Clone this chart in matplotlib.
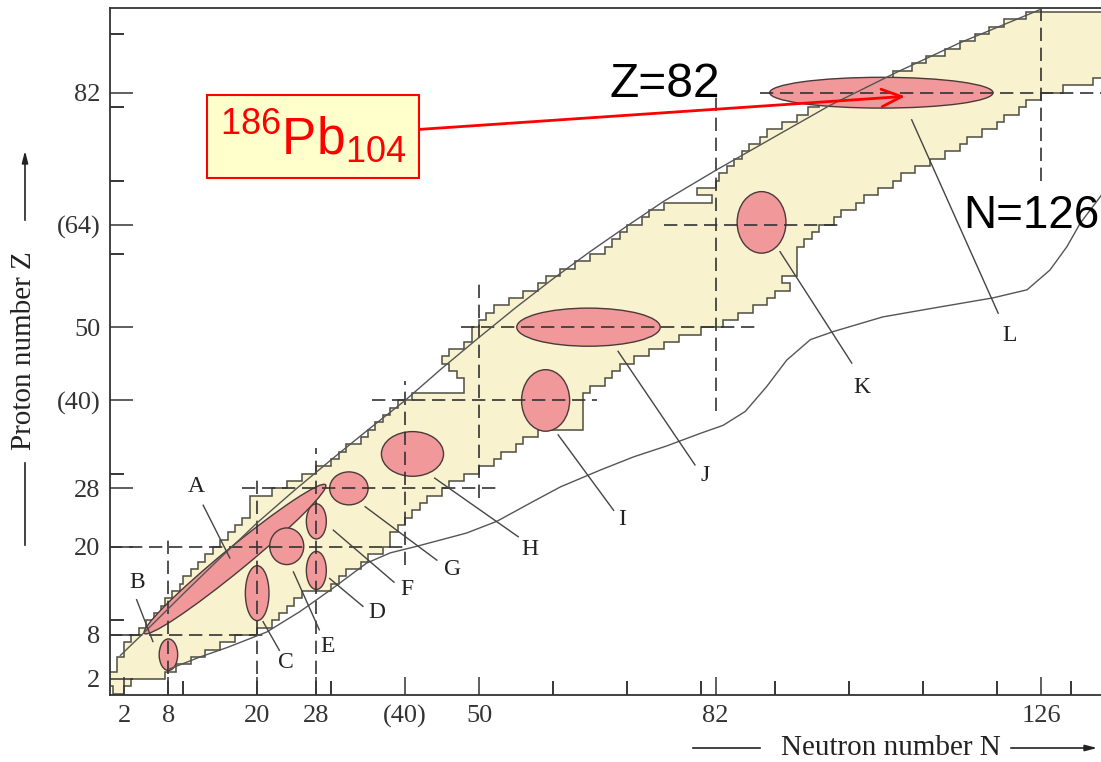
import matplotlib
matplotlib.use('Agg')
import matplotlib.pyplot as plt
from matplotlib.patches import Ellipse
from matplotlib.lines import Line2D

plt.rcParams['font.family'] = 'Liberation Serif'
plt.rcParams['mathtext.fontset'] = 'custom'
plt.rcParams['mathtext.rm'] = 'Liberation Sans'

# known nuclei: one row per proton number Z (Z..Z+1), lowest and highest N
z_rows = list(range(0, 93))
n_min = [0.5, 0, 0, 1, 1, 2, 2, 3, 4, 5,
         6, 7, 7.5, 8.5, 9.5, 10, 11, 12, 13, 14,
         15, 16, 17, 18, 19, 19, 19, 22, 24, 26,
         28, 30, 31, 32, 34, 35, 36, 37, 38, 39,
         41, 48, 48, 47, 46, 45, 46, 48, 49, 49,
         50, 51, 52, 54, 56, 58, 59, 61, 63, 65,
         67, 68, 69, 70, 72, 73, 75, 81.5, 79.5, 82,
         82.5, 83.5, 84.5, 85.5, 86.5, 88, 89, 91, 93, 94.5,
         96, 98, 101, 104, 106, 108.5, 110.5, 113, 115, 117,
         119, 121, 124]
n_max = [2, 3, 7.5, 9, 11, 13, 15, 17, 20, 22,
         23, 24, 25, 26, 30, 31, 32, 34, 35, 37,
         38, 38, 39, 40, 41, 42, 43, 45, 46, 48,
         50, 52, 53, 55, 56, 58, 64, 64, 64, 64,
         64, 65, 67, 68, 69, 71, 73, 75, 77, 80,
         83, 85, 87, 89, 90, 92, 91, 93, 93, 93,
         93, 94, 95, 96, 98, 99, 101, 102, 104, 106,
         107, 109, 111, 113, 115, 116, 118, 120, 121, 123,
         124, 126, 129, 133, 140, 140, 140, 140, 140, 140,
         140, 140, 140]

# drip lines
upper_n = [1.5, 5, 10, 15, 20, 25, 30, 35, 40, 45, 50, 55, 60, 65, 70, 75,
           82, 90, 97.5, 106.5, 115, 126]
upper_z = [5.2, 8.6, 13.6, 18.5, 23.3, 27.7, 31.9, 36.0, 40.0, 44.4, 48.6,
           52.7, 56.6, 60.3, 63.8, 67.2, 71.4, 76.0, 80.3, 84.8, 88.8, 93.4]
lower_n = [8, 12.3, 16, 21.3, 25.8, 30, 34.8, 38, 41.6, 48.3, 52.4, 57.3, 61,
           66.4, 70.9, 75.4, 79.9, 83, 86, 88.9, 91.6, 94.8, 97.9, 104.6,
           111.4, 119.5, 124.1, 127.2, 129.5, 131.3, 134, 136]
lower_z = [3.3, 5.0, 6.3, 8.4, 11.2, 14.2, 17.8, 19.2, 20.1, 21.9, 23.5, 26.2,
           28.2, 30.5, 32.3, 33.8, 35.5, 36.6, 38.5, 41.9, 45.5, 48.3, 49.4,
           51.4, 52.6, 54.0, 55.1, 57.8, 61.0, 64.2, 67.8, 71]

# magic number lines: value, start, end
h_magic = [(8, 0, 21), (20, 0, 40), (28, 18, 53), (40, 35.5, 66),
           (50, 47.5, 88), (64, 75, 98.5), (82, 88, 140)]
v_magic = [(8, 0, 21.4), (20, 0, 29.6), (28, 0, 33.5), (40, 17.5, 42.6),
           (50, 26.7, 56.5), (82, 38.5, 82), (126, 70, 94)]

# deformed regions
ell_names = ['A', 'B', 'C', 'D', 'E', 'F', 'G', 'H', 'I', 'J', 'K', 'L']
ell_n = [17.0, 8, 20, 28, 24, 28, 32.4, 41, 59, 64.8, 88.2, 104.4]
ell_z = [18.35, 5.3, 13.7, 16.8, 20.1, 23.5, 28, 32.7, 40, 50, 64.3, 82]
ell_w = [31.8, 2.5, 3.2, 2.7, 4.6, 2.7, 5.2, 8.4, 6.5, 19.4, 6.6, 30.2]
ell_h = [3.2, 4.3, 7.5, 5.2, 5.0, 4.8, 4.5, 6.1, 8.4, 5.2, 8.4, 4.2]
ell_ang = [39.6, 0, 0, 0, 0, 0, 0, 0, 0, 0, 0, 0]

lab_n = [11.7, 3.8, 23.9, 36.2, 29.5, 40.3, 46.4, 56.9, 69.3, 80.6, 101.8, 121.8]
lab_z = [28.2, 15.2, 4.3, 11.1, 6.4, 14.2, 16.9, 19.6, 23.7, 29.8, 41.7, 48.9]
lead_n0 = [16.3, 5.9, 20.8, 29.8, 24.9, 30.3, 34.6, 44.0, 60.7, 68.8, 90.7, 108.5]
lead_z0 = [18.5, 7.1, 9.8, 15.7, 16.6, 22.3, 25.5, 29.4, 35.3, 46.7, 60.3, 78.3]
lead_n1 = [12.7, 3.7, 23.0, 34.3, 28.4, 38.5, 44.3, 55.3, 68.2, 79.2, 100.4, 120.2]
lead_z1 = [25.7, 12.8, 5.9, 11.9, 8.7, 15.2, 18.2, 21.4, 25.0, 31.2, 45.1, 51.9]

x_major = [2, 8, 20, 28, 40, 50, 82, 126]
x_labels = ['2', '8', '20', '28', '(40)', '50', '82', '126']
x_minor = [10, 30, 60, 70, 80, 90, 100, 110, 120, 130]
y_major = [2, 8, 20, 28, 40, 50, 64, 82]
y_labels = ['2', '8', '20', '28', '(40)', '50', '(64)', '82']
y_minor = [10, 30, 60, 70, 80, 90]

W, H = 1101, 762
fig = plt.figure(figsize=(W / 100, H / 100), dpi=100)
ax = fig.add_axes([110 / W, 1 - 695 / H, 1 - 110 / W, (695 - 8) / H])
ax.set_xlim(0.1, 134.1)
ax.set_ylim(-0.2, 93.56)

# staircase outline of the region
xs, ys = [], []
for z, a in zip(z_rows, n_min):
    xs += [a, a]
    ys += [z, z + 1]
for z, b in zip(reversed(z_rows), reversed(n_max)):
    xs += [b, b]
    ys += [z + 1, z]
ax.fill(xs, ys, fc='#F9F2CF', ec='#4d4d40', lw=1.1, zorder=1)

for name, cn, cz, w, h, a in zip(ell_names, ell_n, ell_z, ell_w, ell_h, ell_ang):
    ax.add_patch(Ellipse((cn, cz), w, h, angle=a, fc='#F1989A',
                         ec='#4a3a3a', lw=1, zorder=2))

for v, a, b in h_magic:
    ax.plot([a, b], [v, v], color='#333333', lw=1.2, dashes=(8, 4), zorder=3)
for v, a, b in v_magic:
    ax.plot([v, v], [a, b], color='#333333', lw=1.2, dashes=(8, 4), zorder=3)

ax.plot(upper_n, upper_z, color='#555555', lw=1, zorder=3)
ax.plot(lower_n, lower_z, color='#555555', lw=1, zorder=3)

for i in range(len(ell_names)):
    ax.plot([lead_n0[i], lead_n1[i]], [lead_z0[i], lead_z1[i]],
            color='#444444', lw=1, zorder=4)
    ax.text(lab_n[i], lab_z[i], ell_names[i], fontsize=17, ha='center',
            va='center', color='#222222', zorder=4)

ax.set_xticks(x_major)
ax.set_xticklabels(x_labels)
ax.set_xticks(x_minor, minor=True)
ax.set_yticks(y_major)
ax.set_yticklabels(y_labels)
ax.set_yticks(y_minor, minor=True)
ax.tick_params(axis='x', which='major', direction='in', length=13, width=1.1, pad=7, labelsize=19)
ax.tick_params(axis='x', which='minor', direction='in', length=10, width=1.1)
ax.tick_params(axis='y', which='major', direction='in', length=16.5, width=1.1, pad=7, labelsize=19)
ax.tick_params(axis='y', which='minor', direction='in', length=10, width=1.1)
ax.tick_params(colors='#333333')
ax.spines['right'].set_visible(False)
for s in ['left', 'top', 'bottom']:
    ax.spines[s].set_color('#333333')
    ax.spines[s].set_linewidth(1.3)

# shell closures and the 186Pb example
ax.text(67.7, 81.4, 'Z=82', fontsize=34.5, family='Liberation Sans', zorder=5)
ax.text(115.5, 63.5, 'N=126', fontsize=33, family='Liberation Sans', zorder=5)
ax.annotate(r'$\mathrm{^{186}Pb_{104}}$', xy=(107.6, 81.5), xytext=(27.5, 76),
            color='red', fontsize=37, ha='center', va='center', zorder=6,
            bbox=dict(boxstyle='square,pad=0.25', fc='#FFFFCC', ec='red', lw=1.5),
            arrowprops=dict(arrowstyle='->,head_length=0.8,head_width=0.35',
                            mutation_scale=18, color='red', lw=2,
                            shrinkA=0, shrinkB=0))

# axis titles with arrows
fig.text(24 / W, 1 - 351 / H, 'Proton number Z', rotation=90, fontsize=21,
         ha='center', va='center', color='#222222')
fig.add_artist(Line2D([25 / W, 25 / W], [1 - 463 / H, 1 - 545 / H],
                      transform=fig.transFigure, color='#222222', lw=1.2))
ax.annotate('', xy=(25 / W, 1 - 148 / H), xytext=(25 / W, 1 - 223 / H),
            xycoords='figure fraction', textcoords='figure fraction',
            arrowprops=dict(arrowstyle='-|>,head_length=0.7,head_width=0.18',
                            color='#222222', lw=1.2))
fig.text(891 / W, 1 - 748 / H, 'Neutron number N', fontsize=21,
         ha='center', va='center', color='#222222')
fig.add_artist(Line2D([693 / W, 760 / W], [1 - 748 / H, 1 - 748 / H],
                      transform=fig.transFigure, color='#222222', lw=1.2))
ax.annotate('', xy=(1100 / W, 1 - 748 / H), xytext=(1008 / W, 1 - 748 / H),
            xycoords='figure fraction', textcoords='figure fraction',
            arrowprops=dict(arrowstyle='-|>,head_length=0.7,head_width=0.18',
                            color='#222222', lw=1.2))

fig.savefig('out.png', dpi=100)
